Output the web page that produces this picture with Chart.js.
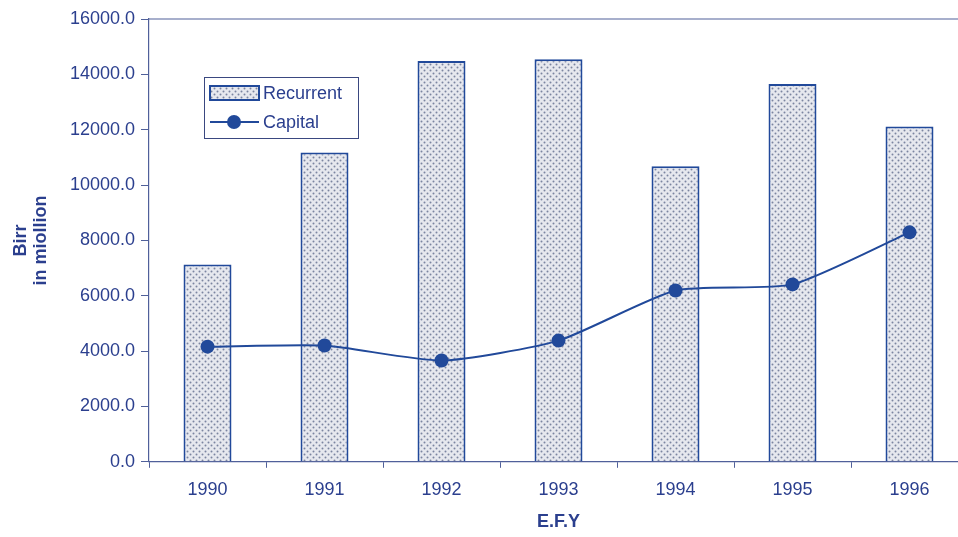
<!DOCTYPE html>
<html>
<head>
<meta charset="utf-8">
<script src="https://cdn.jsdelivr.net/npm/chart.js@4"></script>
<style>
  html, body { margin: 0; padding: 0; background: #fff; overflow: hidden; }
  #wrap { width: 975px; height: 537px; }
</style>
</head>
<body>
<div id="wrap"><canvas id="grafico"></canvas></div>
<script>
const years = ['1990', '1991', '1992', '1993', '1994', '1995', '1996'];
const recurrent = [7130, 11180, 14480, 14550, 10680, 13650, 12120];
const capital = [4160, 4200, 3660, 4380, 6190, 6410, 8290];
const yTicks = [0, 2000, 4000, 6000, 8000, 10000, 12000, 14000, 16000];

const azul = '#2b3f8e';
const linea = '#21499a';
const eje = '#50609a';
const fuente = '"Liberation Sans", Arial, sans-serif';

// stipple pattern for the bars
function trama() {
  const c = document.createElement('canvas');
  c.width = 6; c.height = 6;
  const g = c.getContext('2d');
  g.fillStyle = '#e6e8ee';
  g.fillRect(0, 0, 6, 6);
  g.fillStyle = '#7b84a0';
  g.beginPath(); g.arc(1.5, 1.5, 1, 0, Math.PI * 2); g.fill();
  g.beginPath(); g.arc(4.5, 4.5, 1, 0, Math.PI * 2); g.fill();
  return g.createPattern(c, 'repeat');
}
const relleno = trama();

// top border + legend box inside the plot
const extras = {
  id: 'extras',
  afterDraw(chart) {
    const ctx = chart.ctx;
    const a = chart.chartArea;
    const ds = chart.data.datasets;
    const barras = ds.find(d => d.type === 'bar');
    const serie = ds.find(d => d.type === 'line');
    ctx.save();
    ctx.strokeStyle = eje;
    ctx.lineWidth = 1.2;
    ctx.beginPath();
    ctx.moveTo(a.left, a.top);
    ctx.lineTo(a.right, a.top);
    ctx.stroke();

    // legend
    ctx.strokeStyle = '#3a4880';
    ctx.lineWidth = 1;
    ctx.strokeRect(204.5, 77.5, 154, 61);
    ctx.fillStyle = relleno;
    ctx.fillRect(210, 86, 49, 14);
    ctx.strokeStyle = linea;
    ctx.lineWidth = 2;
    ctx.strokeRect(210, 86, 49, 14);
    ctx.beginPath();
    ctx.moveTo(210, 122);
    ctx.lineTo(259, 122);
    ctx.stroke();
    ctx.fillStyle = linea;
    ctx.beginPath();
    ctx.arc(234, 122, 7, 0, Math.PI * 2);
    ctx.fill();
    ctx.fillStyle = azul;
    ctx.font = '18px ' + fuente;
    ctx.textBaseline = 'middle';
    ctx.fillText(barras.label, 263, 94);
    ctx.fillText(serie.label, 263, 123);
    ctx.restore();
  }
};

const ctx = document.getElementById('grafico');
new Chart(ctx, {
  data: {
    labels: years,
    datasets: [
      {
        type: 'line',
        label: 'Capital',
        data: capital,
        borderColor: linea,
        backgroundColor: linea,
        borderWidth: 2,
        pointRadius: 7,
        pointBackgroundColor: linea,
        pointBorderWidth: 0,
        tension: 0.2,
        order: 0
      },
      {
        type: 'bar',
        label: 'Recurrent',
        data: recurrent,
        backgroundColor: relleno,
        borderColor: linea,
        borderWidth: 2,
        categoryPercentage: 1,
        barPercentage: 0.41,
        order: 1
      }
    ]
  },
  options: {
    responsive: true,
    maintainAspectRatio: false,
    animation: false,
    layout: { padding: { top: 19, right: 0, left: 0, bottom: 4 } },
    plugins: {
      legend: { display: false },
      tooltip: { enabled: false }
    },
    scales: {
      x: {
        offset: true,
        grid: { drawOnChartArea: false, offset: true, tickLength: 6, color: eje },
        border: { color: eje, width: 1.2 },
        ticks: { color: azul, font: { size: 18, family: fuente }, padding: 11 },
        title: {
          display: true, text: 'E.F.Y', color: azul,
          font: { size: 18, weight: 'bold', family: fuente },
          padding: { top: 0, bottom: 0 }
        }
      },
      y: {
        min: 0, max: 16000,
        afterBuildTicks(s) { s.ticks = yTicks.map(v => ({ value: v })); },
        afterFit(s) { s.width = 149; },
        grid: { drawOnChartArea: false, tickLength: 8, color: eje },
        border: { color: eje, width: 1.2 },
        ticks: {
          color: azul, padding: 6,
          font: { size: 18, family: fuente },
          callback: v => v.toFixed(1)
        },
        title: {
          display: true, text: ['Birr', 'in miollion'], color: azul,
          font: { size: 18, weight: 'bold', family: fuente, lineHeight: 1.1 },
          padding: { top: 11, bottom: 4 }
        }
      }
    }
  },
  plugins: [extras]
});
</script>
</body>
</html>
